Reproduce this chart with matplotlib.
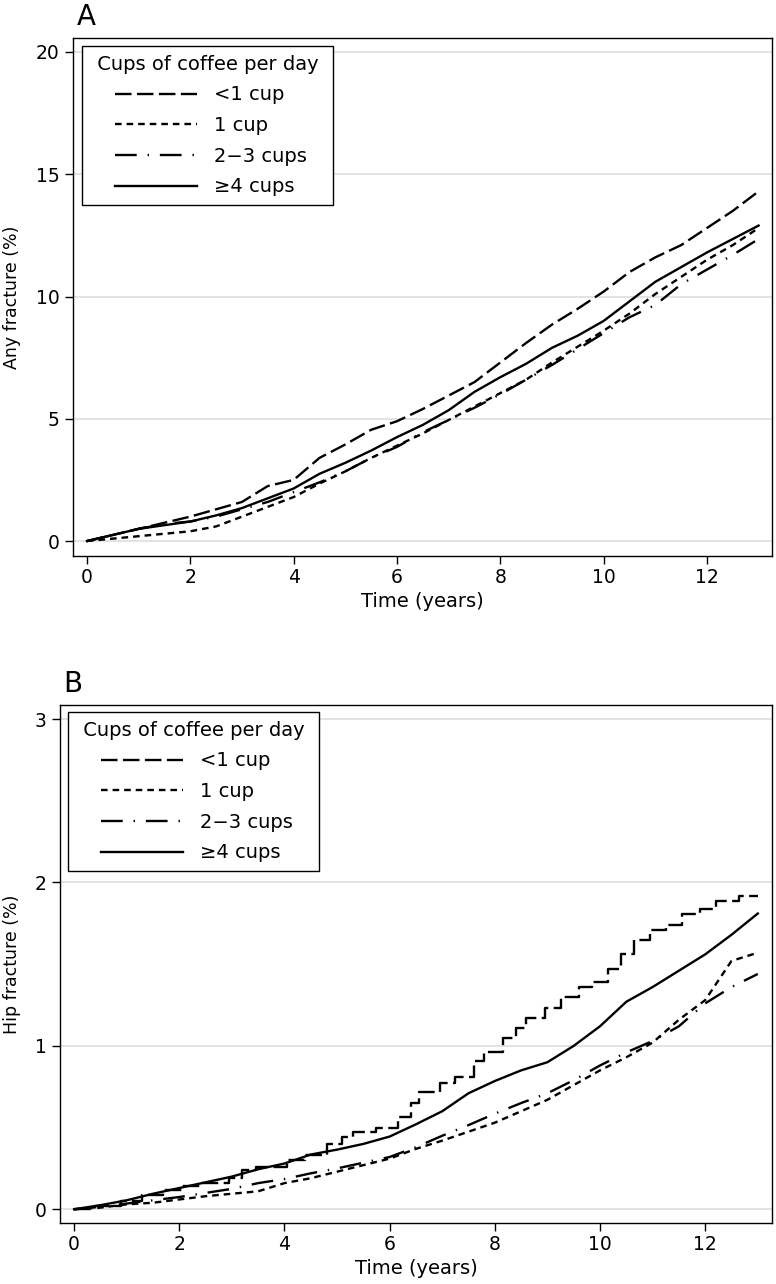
import numpy as np
import matplotlib
matplotlib.use("Agg")
import matplotlib.pyplot as plt
from matplotlib.lines import Line2D
from matplotlib.legend_handler import HandlerLine2D

plt.rcParams['font.family'] = ['DejaVu Sans']

# ---------------- data ----------------
labels = ['<1 cup', '1 cup', '2\u22123 cups', '\u22654 cups']

years = [0, 0.5, 1, 1.5, 2, 2.5, 3, 3.5, 4, 4.5, 5, 5.5, 6, 6.5, 7, 7.5,
         8, 8.5, 9, 9.5, 10, 10.5, 11, 11.5, 12, 12.5, 13]

# Panel A: any fracture (%)
any_lt1 = [0, 0.25, 0.5, 0.75, 1.0, 1.3, 1.6, 2.25, 2.5, 3.4, 3.95, 4.55, 4.9,
           5.4, 5.95, 6.5, 7.3, 8.1, 8.85, 9.5, 10.2, 11.0, 11.6, 12.1, 12.8,
           13.5, 14.3]
any_1 = [0, 0.1, 0.2, 0.3, 0.4, 0.6, 1.0, 1.4, 1.8, 2.35, 2.85, 3.4, 3.9, 4.4,
         4.95, 5.5, 6.05, 6.6, 7.3, 7.95, 8.6, 9.3, 10.1, 10.8, 11.5, 12.1, 12.8]
any_23 = [0, 0.25, 0.5, 0.7, 0.8, 1.0, 1.3, 1.6, 2.0, 2.4, 2.85, 3.4, 3.85,
          4.45, 4.95, 5.45, 6.0, 6.6, 7.2, 7.85, 8.5, 9.15, 9.65, 10.5, 11.1,
          11.7, 12.35]
any_ge4 = [0, 0.25, 0.5, 0.65, 0.8, 1.05, 1.35, 1.75, 2.15, 2.75, 3.2, 3.7,
           4.25, 4.75, 5.35, 6.1, 6.7, 7.25, 7.9, 8.4, 9.0, 9.8, 10.6, 11.2,
           11.8, 12.35, 12.9]

# Panel B: hip fracture (%)
hip_lt1_t = [0, 0.4, 0.9, 1.3, 1.7, 2.05, 2.4, 2.95, 3.2, 3.45, 4.05, 4.4, 4.8,
             5.1, 5.3, 5.75, 6.15, 6.4, 6.55, 6.95, 7.25, 7.6, 7.8, 8.15, 8.4,
             8.6, 8.95, 9.25, 9.6, 9.85, 10.15, 10.4, 10.65, 10.95, 11.25,
             11.55, 11.9, 12.2, 12.65, 13.0]
hip_lt1_v = [0, 0.02, 0.05, 0.085, 0.12, 0.14, 0.16, 0.19, 0.24, 0.26, 0.30,
             0.33, 0.40, 0.44, 0.47, 0.50, 0.565, 0.65, 0.72, 0.77, 0.81, 0.91,
             0.965, 1.05, 1.11, 1.17, 1.23, 1.30, 1.36, 1.39, 1.47, 1.56, 1.65,
             1.71, 1.74, 1.81, 1.84, 1.885, 1.92, 1.92]
hip_1 = [0, 0.01, 0.03, 0.04, 0.06, 0.08, 0.095, 0.11, 0.16, 0.19, 0.23, 0.27,
         0.31, 0.37, 0.42, 0.475, 0.53, 0.6, 0.67, 0.76, 0.85, 0.93, 1.02,
         1.16, 1.28, 1.52, 1.57]
hip_23 = [0, 0.015, 0.035, 0.055, 0.075, 0.1, 0.125, 0.16, 0.185, 0.22, 0.25,
          0.285, 0.32, 0.38, 0.45, 0.515, 0.585, 0.65, 0.71, 0.79, 0.88, 0.96,
          1.03, 1.12, 1.26, 1.36, 1.44]
hip_ge4 = [0, 0.025, 0.055, 0.095, 0.13, 0.165, 0.2, 0.245, 0.28, 0.335,
           0.365, 0.40, 0.445, 0.52, 0.6, 0.71, 0.785, 0.85, 0.9, 1.0, 1.12,
           1.27, 1.36, 1.46, 1.56, 1.68, 1.81]

# ---------------- styles ----------------
LW = 1.7
dash_styles = [(0, (7.0, 2.3)), (0, (2.8, 2.1)), (0, (9.2, 4.6, 0.6, 4.6)), '-']


class IndentLine(HandlerLine2D):
    def __init__(self, left, right, **kw):
        super().__init__(**kw)
        self.left = left
        self.right = right

    def get_xdata(self, legend, xdescent, ydescent, width, height, fontsize):
        x = np.array([-xdescent + self.left * fontsize,
                      -xdescent + width - self.right * fontsize])
        return x, x


W, H = 776, 1284
fig = plt.figure(figsize=(W / 100, H / 100), dpi=100)


def axes_px(l, t, r, b):
    return fig.add_axes([l / W, 1 - b / H, (r - l) / W, (b - t) / H])


def style_axes(ax, yticks, xlim, ylim, ylabel, ylab_x):
    ax.set_xlim(*xlim)
    ax.set_ylim(*ylim)
    ax.set_xticks([0, 2, 4, 6, 8, 10, 12])
    ax.set_yticks(yticks)
    ax.yaxis.grid(True, color='#dedede', lw=1.2)
    ax.xaxis.grid(False)
    ax.set_axisbelow(True)
    for s in ax.spines.values():
        s.set_linewidth(1.0)
        s.set_color('black')
    ax.tick_params(axis='both', direction='out', length=5.5, width=1.0,
                   labelsize=13.5, color='black')
    ax.tick_params(axis='y', pad=4.3)
    ax.tick_params(axis='x', pad=3)
    ax.set_xlabel('Time (years)', fontsize=14, labelpad=4)
    ax.set_ylabel(ylabel, fontsize=12.5)
    ax.yaxis.set_label_coords(ylab_x, 0.5)


def add_legend(ax, handles, x_px, y_px):
    leg = ax.legend(handles, labels, title=' Cups of coffee per day ',
                    loc='upper left', bbox_to_anchor=(x_px / W, 1 - y_px / H),
                    bbox_transform=fig.transFigure, borderaxespad=0,
                    frameon=True, fancybox=False, edgecolor='black',
                    framealpha=1, fontsize=14, title_fontsize=14,
                    alignment='left', handlelength=6.12, handletextpad=0.2,
                    labelspacing=0.6, borderpad=0.45,
                    handler_map={Line2D: IndentLine(1.25, 0.66)})
    leg.get_frame().set_linewidth(1.0)
    return leg


# ---------------- panel A ----------------
axA = axes_px(73, 38, 772, 556)
hA = []
for vals, ls in zip([any_lt1, any_1, any_23, any_ge4], dash_styles):
    ln, = axA.plot(years, vals, color='black', lw=LW, linestyle=ls)
    hA.append(ln)
style_axes(axA, [0, 5, 10, 15, 20], (-0.271, 13.26), (-0.61, 20.57),
           'Any fracture (%)', -0.0744)
add_legend(axA, hA, 82, 46)

# ---------------- panel B ----------------
axB = axes_px(60.3, 705, 772, 1223)
hB = []
ln, = axB.plot(hip_lt1_t, hip_lt1_v, color='black', lw=LW,
               linestyle=dash_styles[0], drawstyle='steps-post')
hB.append(ln)
for vals, ls in zip([hip_1, hip_23, hip_ge4], dash_styles[1:]):
    ln, = axB.plot(years, vals, color='black', lw=LW, linestyle=ls)
    hB.append(ln)
style_axes(axB, [0, 1, 2, 3], (-0.262, 13.27), (-0.084, 3.086),
           'Hip fracture (%)', -0.0552)
add_legend(axB, hB, 68, 712)

fig.text(77 / W, 1 - 25 / H, 'A', fontsize=20, ha='left', va='baseline')
fig.text(63.5 / W, 1 - 692 / H, 'B', fontsize=20, ha='left', va='baseline')

fig.savefig('out.png', dpi=100)
